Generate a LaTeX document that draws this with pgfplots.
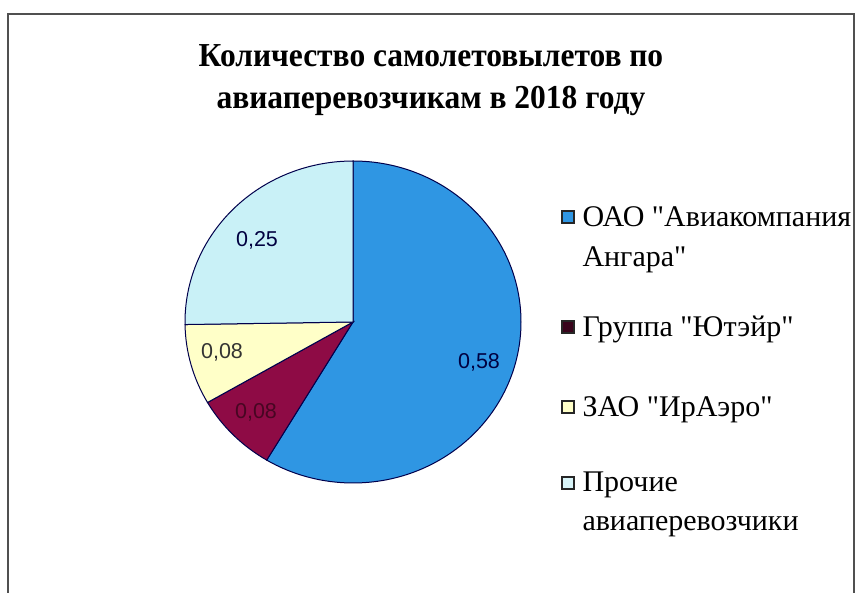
\documentclass[border=0pt]{standalone}
\usepackage{pgfplots}
\pgfplotsset{compat=1.18}
\usepackage{fontspec}
\setmainfont{Liberation Serif}
\newfontfamily\legfont{Liberation Serif}
\newfontfamily\labelfont{Liberation Sans}

\definecolor{cBlue}{HTML}{2F96E3}
\definecolor{cMaroon}{HTML}{8E0B45}
\definecolor{cYellow}{HTML}{FFFFC8}
\definecolor{cCyan}{HTML}{C9F1F7}
\definecolor{frame}{HTML}{505050}

% shares
\def\vA{0.58}\def\vB{0.08}\def\vC{0.08}\def\vD{0.25}
\pgfmathsetmacro\tot{\vA+\vB+\vC+\vD}
\pgfmathsetmacro\aA{90}
\pgfmathsetmacro\aB{\aA-360*\vA/\tot}
\pgfmathsetmacro\aC{\aB-360*\vB/\tot}
\pgfmathsetmacro\aD{\aC-360*\vC/\tot}
\pgfmathsetmacro\aE{\aD-360*\vD/\tot}

\newcommand\pieslice[3]{%
  \filldraw[fill=#1, draw=black!70!blue, line width=0.4pt]
    (axis cs:353,322) -- ++(#2:67.2pt and 64.4pt)
    arc[start angle=#2, end angle=#3, x radius=67.2pt, y radius=64.4pt] -- cycle;}

\tikzset{
  legtxt/.style={anchor=base west, inner sep=0pt, font=\legfont\fontsize{12}{16}\selectfont},
  legbox/.style={draw=black!85, line width=0.5pt},
  pielbl/.style={font=\labelfont\fontsize{8.6}{10}\selectfont, text=black!75!blue},
  ttl/.style={anchor=base, xscale=0.94, font=\fontsize{13.4}{15}\selectfont\bfseries}
}

\begin{document}
\begin{tikzpicture}
\begin{axis}[
    width=342pt, height=237.2pt, scale only axis,
    xmin=0, xmax=855, ymin=0, ymax=593, y dir=reverse,
    hide axis, clip=false]
  \path (axis cs:0,0) rectangle (axis cs:855,593);
  \draw[frame, line width=0.8pt] (axis cs:8,593) -- (axis cs:8,14) -- (axis cs:854,14) -- (axis cs:854,593);

  \node[ttl] at (axis cs:431,66) {Количество самолетовылетов по};
  \node[ttl] at (axis cs:431,109) {авиаперевозчикам в 2018 году};

  \pieslice{cBlue}{\aA}{\aB}
  \pieslice{cMaroon}{\aB}{\aC}
  \pieslice{cYellow}{\aC}{\aD}
  \pieslice{cCyan}{\aD}{\aE}

  \node[pielbl] at (axis cs:479,362) {0,58};
  \node[pielbl, text=black!50!cMaroon] at (axis cs:256,412) {0,08};
  \node[pielbl, text=black!80] at (axis cs:222,352) {0,08};
  \node[pielbl] at (axis cs:257,240) {0,25};

  \filldraw[legbox, fill=cBlue] (axis cs:562,211) rectangle (axis cs:574,223);
  \filldraw[legbox, fill=black!60!cMaroon] (axis cs:562,321) rectangle (axis cs:574,333);
  \filldraw[legbox, fill=cYellow] (axis cs:562,401) rectangle (axis cs:574,413);
  \filldraw[legbox, fill=cCyan!70] (axis cs:562,477) rectangle (axis cs:574,489);

  \node[legtxt] at (axis cs:582,227) {ОАО "Авиакомпания};
  \node[legtxt] at (axis cs:582,267) {Ангара"};
  \node[legtxt] at (axis cs:582,337) {Группа "Ютэйр"};
  \node[legtxt] at (axis cs:582,417) {ЗАО "ИрАэро"};
  \node[legtxt] at (axis cs:582,492) {Прочие};
  \node[legtxt] at (axis cs:582,531) {авиаперевозчики};
\end{axis}
\end{tikzpicture}
\end{document}
